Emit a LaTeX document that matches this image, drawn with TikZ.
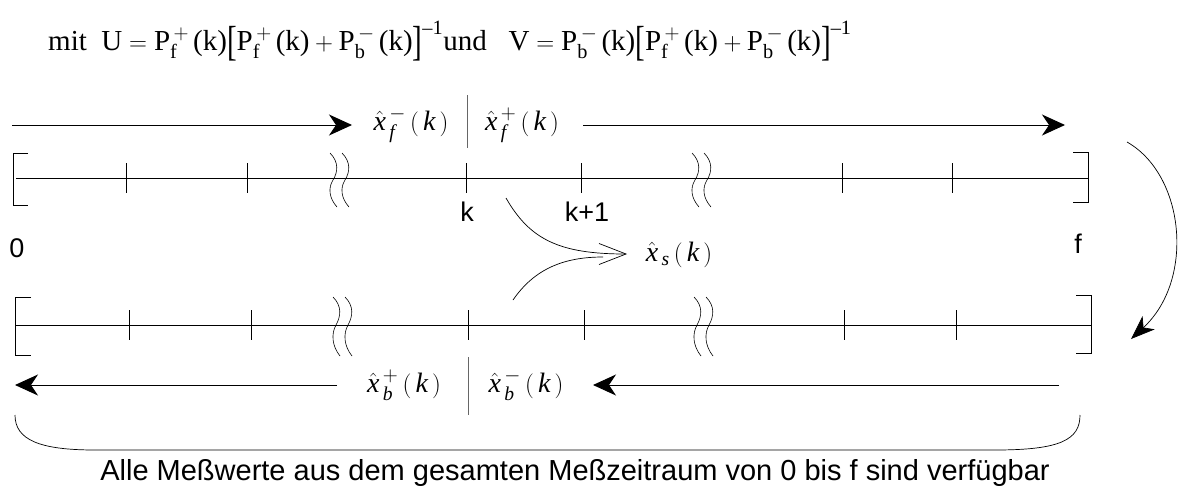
\documentclass[tikz,border=0pt]{standalone}
\usepackage{amsmath}
\usepackage{fontspec}
\setmainfont{Liberation Serif}
\newfontfamily\arialf{Liberation Sans}
\usetikzlibrary{arrows.meta}
\newcommand{\Pfp}{\text{P}^{\,+}_{\text{f}}\,}
\newcommand{\Pbm}{\text{P}^{\,-}_{\text{b}}\,}
\newcommand{\lbr}{\raisebox{-0.2em}{\scalebox{1}[1.45]{\text{[}}}}
\newcommand{\rbr}{\raisebox{-0.2em}{\scalebox{1}[1.45]{\text{]}}}}
\newcommand{\xh}[2]{\hat{\text{\itshape x}}^{\,#2}_{\,\text{\itshape #1}}\,(\,\text{\itshape k}\,)}
\begin{document}
\begin{tikzpicture}[x=1pt,y=-1pt,
  tl/.style={line width=0.9pt},
  thin/.style={line width=0.7pt},
  big/.style={-{Stealth[length=23pt,width=21pt,inset=7pt]}, line width=1pt},
  sans/.style={font=\arialf\fontsize{27}{32}\selectfont, inner sep=0pt},
  serif/.style={font=\fontsize{28}{32}\selectfont, inner sep=0pt},
  sep/.style={line width=1pt, draw=black!60},
]
\useasboundingbox (0,0) rectangle (1178,488);

% formula
\node[font=\fontsize{29}{34}\selectfont, inner sep=0pt, anchor=base west] (formula) at (48,50)
  {mit\ \ $\text{U} = \Pfp\text{(k)}\lbr\Pfp\text{(k)} + \Pbm\text{(k)}\rbr^{\text{--1}}$und\ \ \ $\text{V} = \Pbm\text{(k)}\lbr\Pfp\text{(k)} + \Pbm\text{(k)}\rbr^{\text{--1}}$};

% ---------- top timeline ----------
\coordinate (tL) at (16,178);
\coordinate (tR) at (1088,178);
\draw[tl] (tL) -- (tR);
\draw[thin] (28,153) -- (13,153) -- (13,205) -- (28,205);
\draw[thin] (1073,152) -- (1088,152) -- (1088,202) -- (1073,202);
\foreach \x in {126,247,466,581,842,952} \draw[thin] (\x,163) -- (\x,193);
\foreach \x in {330,342,692,704}
  \draw[line width=0.6pt] (\x,153) .. controls (\x+9,162) and (\x+8,172) .. (\x+3,180)
     .. controls (\x-2,188) and (\x-1,198) .. (\x+7,207);

% top arrows and labels
\coordinate (ta0) at (12,125);
\coordinate (ta1) at (352,125);
\draw[big] (ta0) -- (ta1);
\node[serif] (xfm) at (411,125) {$\xh{f}{-}$};
\draw[sep] (467,95) -- (467,148);
\node[serif] (xfp) at (522,125) {$\xh{f}{+}$};
\coordinate (tb0) at (583,125);
\coordinate (tb1) at (1065,125);
\draw[big] (tb0) -- (tb1);

% labels
\node[sans] (l0) at (17,248) {0};
\node[sans] (lk) at (467,212) {k};
\node[sans] (lk1) at (587,212) {k+1};
\node[sans] (lf) at (1078,244) {f};

% smoothing
\node[serif] (xs) at (679,255) {$\hat{\text{\itshape x}}_{\,\text{\itshape s}}\,(\,\text{\itshape k}\,)$};
\coordinate (c1) at (506,198);
\coordinate (tip) at (627,254);
\draw[thin, -{Straight Barb[length=27pt,width=21pt]}] (c1) .. controls (530,240) and (560,254) .. (tip);
\coordinate (c2) at (513,300);
\coordinate (c3) at (603,257);
\draw[thin] (c2) .. controls (535,268) and (565,257) .. (c3);

% right curved arrow
\coordinate (r0) at (1127,142);
\coordinate (r1) at (1131,339);
\draw[thin, -{Stealth[length=24pt,width=18pt,inset=7pt]}] (r0) .. controls (1185,175) and (1195,280) .. (r1);

% ---------- bottom timeline ----------
\coordinate (bL) at (16,325);
\coordinate (bR) at (1091,325);
\draw[tl] (bL) -- (bR);
\draw[thin] (31,297) -- (15,297) -- (15,355) -- (31,355);
\draw[thin] (1076,295) -- (1091,295) -- (1091,353) -- (1076,353);
\foreach \x in {129,251,468,584,844,956} \draw[thin] (\x,310) -- (\x,340);
\foreach \x in {333,345,694,706}
  \draw[line width=0.6pt] (\x,297) .. controls (\x+9,306) and (\x+8,316) .. (\x+3,325)
     .. controls (\x-2,334) and (\x-1,346) .. (\x+7,356);

% bottom arrows and labels
\coordinate (ba0) at (337,385);
\coordinate (ba1) at (15,385);
\draw[big] (ba0) -- (ba1);
\node[serif] (xbp) at (404,385) {$\xh{b}{+}$};
\draw[sep] (468,357) -- (468,415);
\node[serif] (xbm) at (526,385) {$\xh{b}{-}$};
\coordinate (bb0) at (1059,385);
\coordinate (bb1) at (593,385);
\draw[big] (bb0) -- (bb1);

% brace
\coordinate (br0) at (15,415);
\coordinate (br1) at (1080,415);
\draw[thin] (br0) .. controls (15,440) and (40,450) .. (95,450) -- (995,450) .. controls (1060,450) and (1080,440) .. (br1);

\node[font=\arialf\fontsize{29}{34}\selectfont, inner sep=0pt, anchor=base] (cap) at (575,480)
  {Alle Meßwerte aus dem gesamten Meßzeitraum von 0 bis f sind verfügbar};
\end{tikzpicture}
\end{document}
